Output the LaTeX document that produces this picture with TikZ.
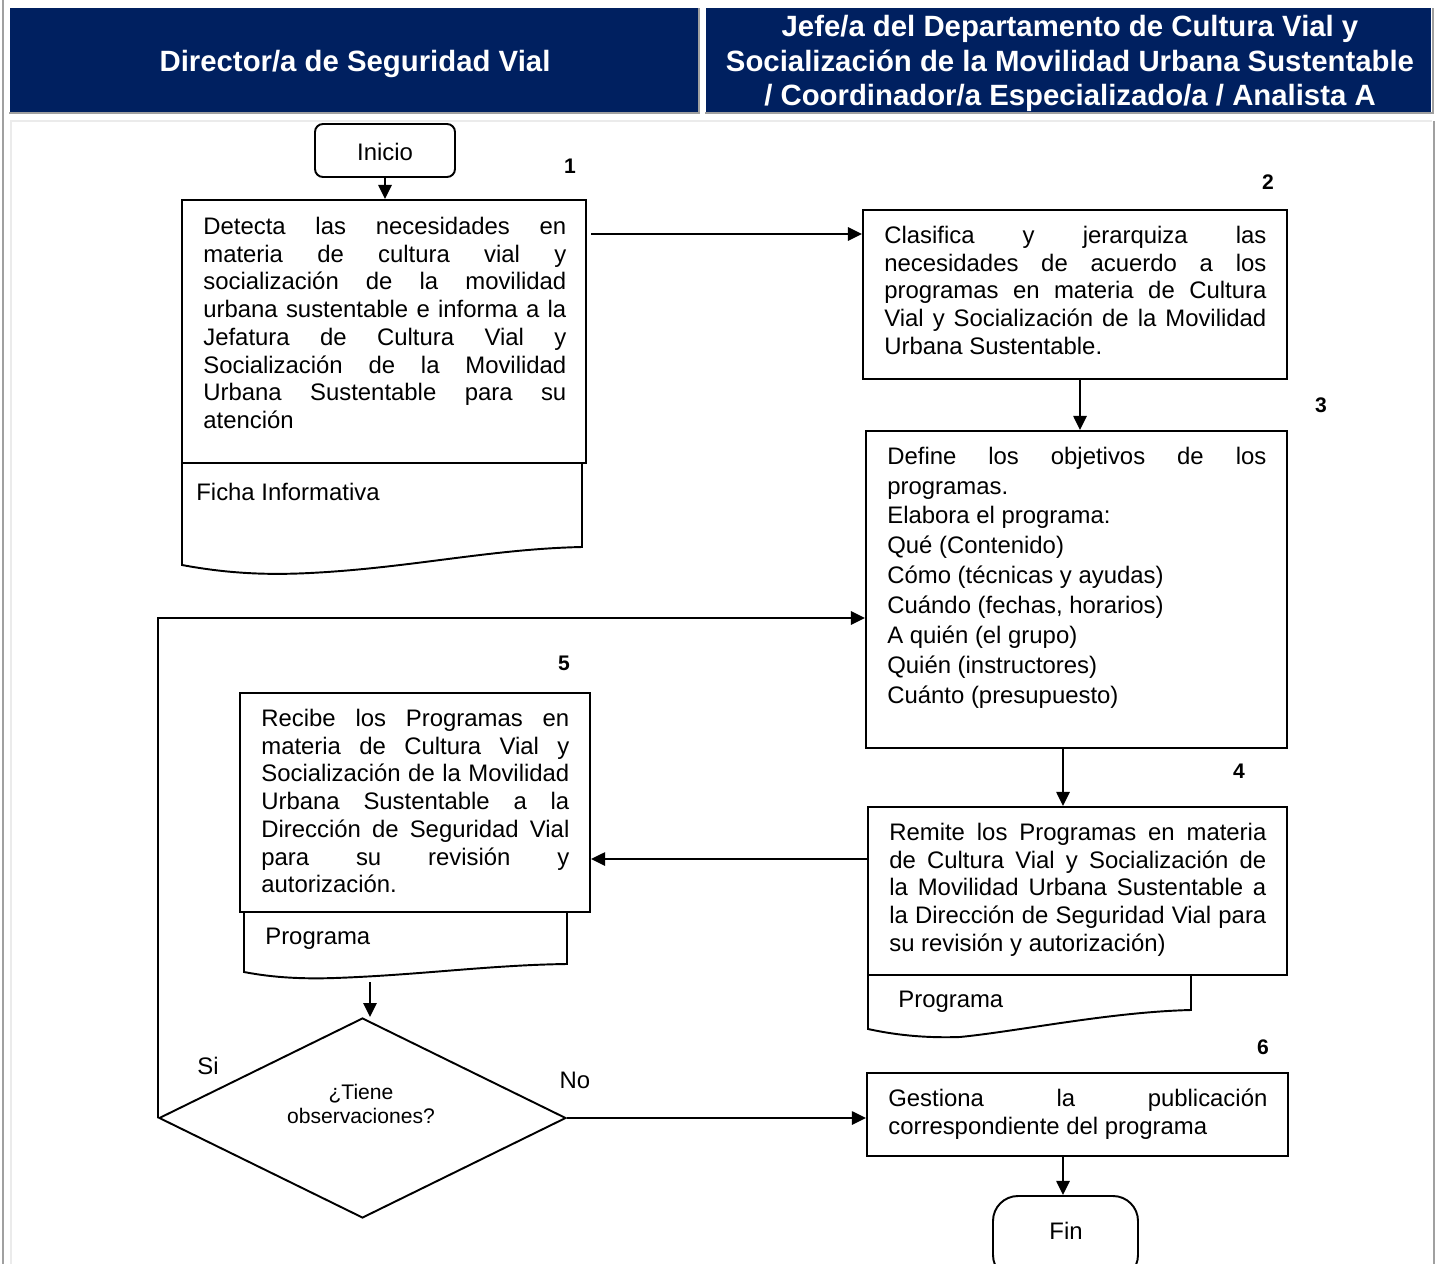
\documentclass[tikz,border=0pt]{standalone}
\usepackage{fontspec}
\setmainfont{Liberation Sans}
\usetikzlibrary{arrows.meta,fit,shapes.geometric,calc}

\newlength\px \setlength\px{0.02cm}
\definecolor{navy}{HTML}{002060}
\definecolor{rulegray}{HTML}{A0A0A0}
\definecolor{paleline}{HTML}{EBEBEB}

\newcommand\bodyfont{\fontsize{13.6}{15.8}\selectfont}
\newcommand\listfont{\fontsize{13.6}{17}\selectfont}
\newcommand\hdrfont{\fontsize{16.7}{19.56}\selectfont\bfseries}
\newcommand\numfont{\fontsize{12}{14}\selectfont\bfseries}
\newcommand\qfont{\fontsize{12}{13.6}\selectfont}
% one justified line of a given width (in px units)
\newcommand\J[2]{\makebox[#1\px][s]{#2}}

\begin{document}
\begin{tikzpicture}[x=0.02cm,y=-0.02cm,
  box/.style={draw, line width=1.1pt, inner sep=0pt},
  hdr/.style={fill=navy, inner sep=0pt},
  hdrtxt/.style={inner sep=0pt, text=white, font=\hdrfont},
  txt/.style={inner sep=0pt, align=left, font=\bodyfont, anchor=north west},
  lbl/.style={inner sep=0pt, font=\bodyfont},
  num/.style={inner sep=0pt, font=\numfont},
  doc/.style={line width=1.1pt},
  arr/.style={-{Triangle[length=8pt,width=7.5pt]}, line width=1.2pt},
  shade/.style={rulegray, line width=2\px}]

\useasboundingbox (0,0) rectangle (1438,1264);
\clip (0,0) rectangle (1438,1264);

% page frame
\draw[shade] (3.5,0) -- (3.5,1264);
\draw[shade] (1433.5,121) -- (1433.5,1264);
\draw[paleline, line width=2\px] (10,121) -- (1432,121);
\draw[paleline, line width=2\px] (10.5,121) -- (10.5,1264);

% lane headers
\node[hdr, fit={(10,8) (698,112)}] (h1) {};
\node[hdr, fit={(706,8) (1431,112)}] (h2) {};
\draw[shade] (9,113) -- (699,113) -- (699,8);
\draw[shade] (705,113) -- (1432.5,113) -- (1432.5,8);
\node[hdrtxt, anchor=base] (h1t) at (355,71.5) {Director/a de Seguridad Vial};
\node[hdrtxt, anchor=north, align=center] (h2t) at (1070,12.4)
  {\strut Jefe/a del Departamento de Cultura Vial y\\
   Socialización de la Movilidad Urbana Sustentable\\
   / Coordinador/a Especializado/a / Analista A};

% start
\node[box, rounded corners=0.16cm, fit={(315,124) (455,177)}] (ini) {};
\node[lbl] (init) at (385,152) {Inicio};

% step 1
\node[box, fit={(182,200) (586,463)}] (b1) {};
\node[txt] (t1) at (203,214.5)
  {\strut\J{363}{Detecta las necesidades en}\\
   \J{363}{materia de cultura vial y}\\
   \J{363}{socialización de la movilidad}\\
   \J{363}{urbana sustentable e informa a la}\\
   \J{363}{Jefatura de Cultura Vial y}\\
   \J{363}{Socialización de la Movilidad}\\
   \J{363}{Urbana Sustentable para su}\\
   atención};
\draw[doc] (182,463) -- (182,565) .. controls (230,574) and (270,575) .. (310,573)
  .. controls (410,568) and (490,549) .. (582,547) -- (582,463);
\node[lbl, anchor=base west] (f1) at (196,500) {Ficha Informativa};

% step 2
\node[box, fit={(863,210) (1287,379)}] (b2) {};
\node[txt] (t2) at (884,223.5)
  {\strut\J{382}{Clasifica y jerarquiza las}\\
   \J{382}{necesidades de acuerdo a los}\\
   \J{382}{programas en materia de Cultura}\\
   \J{382}{Vial y Socialización de la Movilidad}\\
   Urbana Sustentable.};

% step 3
\node[box, fit={(866,431) (1287,748)}] (b3) {};
\node[txt, font=\listfont] (t3) at (887,443)
  {\strut\J{379}{Define los objetivos de los}\\
   programas.\\
   Elabora el programa:\\
   Qué (Contenido)\\
   Cómo (técnicas y ayudas)\\
   Cuándo (fechas, horarios)\\
   A quién (el grupo)\\
   Quién (instructores)\\
   Cuánto (presupuesto)};

% step 4
\node[box, fit={(868,807) (1287,975)}] (b4) {};
\node[txt] (t4) at (889,820.5)
  {\strut\J{377}{Remite los Programas en materia}\\
   \J{377}{de Cultura Vial y Socialización de}\\
   \J{377}{la Movilidad Urbana Sustentable a}\\
   \J{377}{la Dirección de Seguridad Vial para}\\
   su revisión y autorización)};
\draw[doc] (868,975) -- (868,1029) .. controls (900,1036) and (930,1038) .. (960,1037)
  .. controls (1020,1031) and (1110,1012) .. (1191,1010) -- (1191,975);
\node[lbl, anchor=base west] (f4) at (898,1007) {Programa};

% step 5
\node[box, fit={(240,693) (590,912)}] (b5) {};
\node[txt] (t5) at (261,706.5)
  {\strut\J{308}{Recibe los Programas en}\\
   \J{308}{materia de Cultura Vial y}\\
   \J{308}{Socialización de la Movilidad}\\
   \J{308}{Urbana Sustentable a la}\\
   \J{308}{Dirección de Seguridad Vial}\\
   \J{308}{para su revisión y}\\
   autorización.};
\draw[doc] (244,912) -- (244,972) .. controls (275,978) and (305,979) .. (335,978)
  .. controls (420,975) and (490,965) .. (567,964) -- (567,912);
\node[lbl, anchor=base west] (f5) at (265,944) {Programa};
\coordinate (d5) at (370,982);

% decision
\node[draw, diamond, line width=1.1pt, inner sep=0pt,
      minimum width=8.14cm, minimum height=4cm] (dia) at (362.5,1118) {};
\node[inner sep=0pt, font=\qfont, align=center, anchor=north] (qt) at (361,1082.2)
  {\strut ¿Tiene\\observaciones?};
\node[lbl] (si) at (208,1066) {Si};
\node[lbl] (no) at (575,1080) {No};

% step 6
\node[box, fit={(867,1073) (1288,1156)}] (b6) {};
\node[txt] (t6) at (888,1086.5)
  {\strut\J{379}{Gestiona la publicación}\\
   correspondiente del programa};

% end
\node[box, rounded corners=0.5cm, fit={(993,1196) (1138,1280)}] (fin) {};
\node[lbl] (fint) at (1066,1231) {Fin};

% step numbers
\node[num] (n1) at (570,166) {1};
\node[num] (n2) at (1268,182) {2};
\node[num] (n3) at (1321,405) {3};
\node[num] (n4) at (1239,771) {4};
\node[num] (n5) at (564,663) {5};
\node[num] (n6) at (1263,1047) {6};

% connectors
\coordinate (o1) at (591,234);
\coordinate (y618) at (0,618);
\coordinate (in3) at (b3.west |- y618);
\draw[arr] (ini.south) -- (ini.south |- b1.north);
\draw[arr] (o1) -- (o1 -| b2.west);
\draw[arr] ([xshift=0.1cm]b2.south) -- ([xshift=0.1cm]b2.south |- b3.north);
\draw[arr] ([xshift=-0.27cm]b3.south) -- ([xshift=-0.27cm]b3.south |- b4.north);
\draw[arr] ([yshift=0.64cm]b4.west) -- ([yshift=0.64cm]b4.west -| b5.east);
\draw[arr] (d5) -- (d5 |- dia.north);
\draw[arr] (dia.west) |- (in3);
\draw[arr] (dia.east) -- (dia.east -| b6.west);
\draw[arr] ([xshift=-0.05cm]fin.north |- b6.south) -- ([xshift=-0.05cm]fin.north);
\end{tikzpicture}
\end{document}
